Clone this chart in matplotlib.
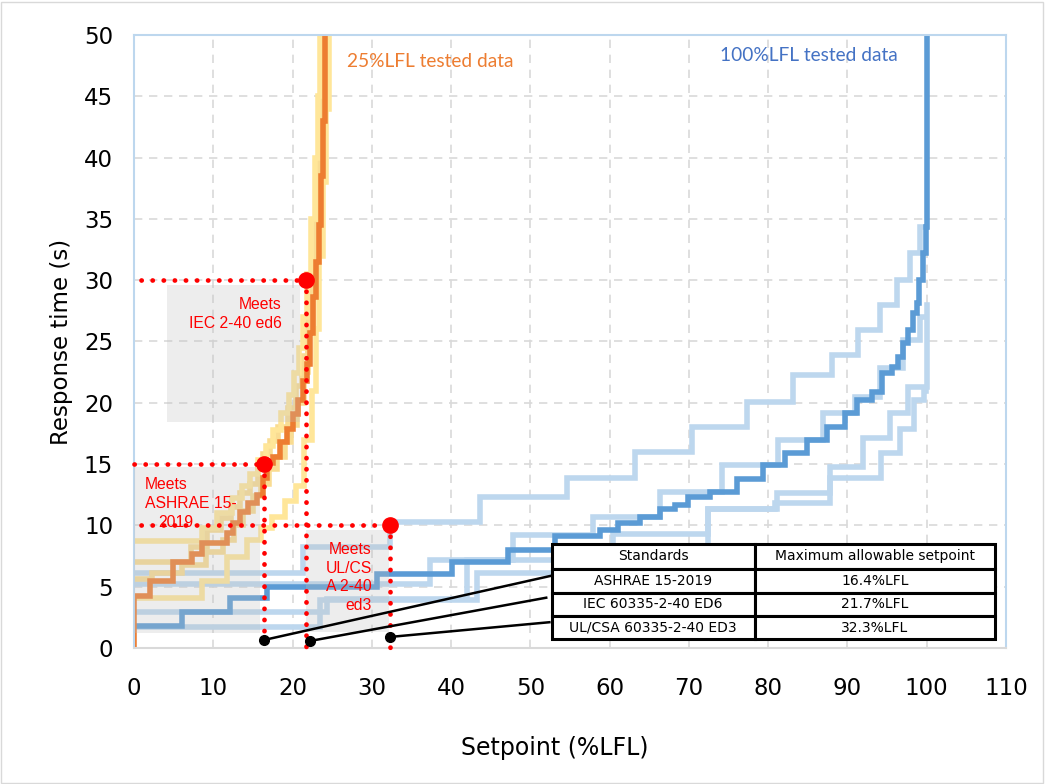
import matplotlib
matplotlib.use("Agg")
import matplotlib.pyplot as plt
from matplotlib.patches import Rectangle

# --- 25%LFL tests: (setpoint where the step happens, response time after the step)
ORANGE_X = [0, 0, 2.0, 4.9, 7.3, 8.6, 11.7, 12.5, 13.4, 14.4, 15.5, 16.3, 16.8, 17.5, 18.4,
            19.3, 20.1, 20.7, 21.3, 21.8, 22.2, 22.6, 23.0, 23.3, 23.6, 23.8, 24.1]
ORANGE_Y = [0, 4.2, 5.5, 7.0, 7.7, 8.6, 9.4, 10.2, 11.1, 11.8, 12.5, 13.9, 15.1, 15.6, 16.8,
            17.9, 19.1, 20.2, 21.8, 23.2, 25.7, 28.6, 31.5, 34.5, 38.5, 43.0, 50.5]

YELLOW_A_X = [0, 8.6, 10.5, 12.4, 13.6, 14.6, 15.6, 16.6, 17.6, 18.6, 19.5, 20.2, 20.8, 21.3,
              21.8, 22.3, 22.8, 23.2, 23.5]
YELLOW_A_Y = [8.7, 9.8, 11.0, 12.2, 13.2, 14.2, 15.3, 16.5, 17.8, 19.2, 20.6, 22.4, 24.5, 27.0,
              30.5, 35.0, 40.0, 45.0, 50.5]
YELLOW_B_X = [0, 7.2, 9.2, 11.0, 12.3, 13.4, 14.6, 15.7, 16.3, 17.2, 18.2, 19.4, 20.4, 21.2,
              21.9, 22.5, 23.0, 23.4, 23.8]
YELLOW_B_Y = [7.0, 8.2, 9.6, 10.6, 11.5, 12.6, 13.4, 14.6, 15.8, 16.9, 18.0, 19.6, 21.4, 23.8,
              27.0, 31.0, 36.0, 42.0, 50.5]
YELLOW_C_X = [0, 8.6, 11.7, 14.2, 16.0, 17.4, 19.0, 20.5, 21.5, 22.5, 23.0, 23.4, 23.8, 24.2, 24.6]
YELLOW_C_Y = [4.1, 5.5, 7.4, 8.8, 9.8, 10.7, 12.0, 13.2, 17.0, 21.0, 26.0, 32.0, 38.0, 44.0, 50.5]
YELLOW_D_X = [0, 2.3, 6.0, 9.1, 11.2, 12.6, 13.8, 15.0, 16.0, 17.0, 18.0, 19.0, 19.8, 20.6,
              21.4, 22.0, 22.6, 23.1, 23.6]
YELLOW_D_Y = [5.6, 6.1, 6.8, 7.8, 8.8, 10.0, 11.2, 12.4, 13.4, 14.6, 15.6, 16.8, 18.2, 20.0,
              22.5, 26.0, 31.0, 38.0, 50.5]

# --- 100%LFL tests
BLUE_X = [0, 6.0, 12.1, 16.8, 30.6, 40.1, 47.2, 53.1, 58.8, 61.1, 63.8, 66.4, 68.2, 69.9, 72.7,
          76.1, 79.4, 82.1, 84.9, 87.4, 89.7, 91.2, 93.1, 94.4, 95.6, 96.4, 97.0, 97.6, 98.3,
          98.8, 99.0, 99.5, 99.9, 100.0]
BLUE_Y = [1.8, 2.9, 4.1, 5.0, 6.0, 7.0, 8.0, 9.1, 9.6, 10.2, 10.7, 11.3, 11.7, 12.3, 12.7,
          13.8, 14.9, 15.9, 17.0, 18.0, 19.2, 20.2, 20.9, 22.4, 22.9, 23.7, 24.9, 25.9, 27.3,
          28.1, 30.0, 32.2, 34.3, 51.0]
LIGHT1_X = [0, 21.3, 32.3, 43.6, 54.6, 63.2, 70.4, 77.3, 83.1, 88.1, 91.3, 94.1, 96.2, 97.9, 99.2]
LIGHT1_Y = [6.1, 8.2, 10.3, 12.3, 13.9, 16.0, 18.0, 20.1, 22.3, 23.9, 25.9, 28.0, 30.0, 32.2, 34.3]
LIGHT2_X = [0, 37.3, 47.8, 57.9, 66.4, 74.2, 81.2, 86.9, 90.9, 94.1, 97.0, 99.2]
LIGHT2_Y = [5.2, 7.2, 9.2, 10.7, 12.7, 14.9, 17.0, 19.2, 20.5, 22.8, 25.1, 27.0]
LIGHT3_X = [0, 24.3, 42.0, 60.0, 72.4, 80.9, 87.8, 94.2, 96.6, 98.4, 99.6]
LIGHT3_Y = [2.9, 4.0, 7.2, 8.2, 11.3, 11.8, 13.9, 15.9, 17.9, 20.2, 21.0]
LIGHT4_X = [0, 23.5, 43.3, 60.4, 72.4, 81.1, 87.8, 92.0, 95.4, 97.6, 100.0]
LIGHT4_Y = [1.7, 3.9, 6.1, 9.3, 11.3, 12.6, 14.8, 17.1, 19.2, 21.3, 28.0]
LIGHT_END = [99.6, 99.5, 99.9, 100.0]

# --- standards: max setpoint (%LFL) and required response time (s)
STANDARDS = ["ASHRAE 15-2019", "IEC 60335-2-40 ED6", "UL/CSA 60335-2-40 ED3"]
MAX_SETPOINT = [16.4, 21.7, 32.3]
MAX_TIME = [15, 30, 10]

DARK_ORANGE = "#ED7D31"
DARK_BLUE = "#5B9BD5"
LIGHT_BLUE = "#BDD7EE"
PALE_YELLOW = "#FFE699"
TAN_YELLOW = "#F9DC92"
RED = "#FF0000"

fig = plt.figure(figsize=(10.45, 7.84), dpi=100)
ax = fig.add_axes([0.1282, 0.1735, 0.8345, 0.7819])


def stairs(xs, ys, x_end, **kw):
    ax.plot(list(xs) + [x_end], list(ys) + [ys[-1]], drawstyle="steps-post",
            solid_joinstyle="miter", **kw)


lw = 4.0
for xs, ys, xe in zip([LIGHT1_X, LIGHT2_X, LIGHT3_X, LIGHT4_X],
                      [LIGHT1_Y, LIGHT2_Y, LIGHT3_Y, LIGHT4_Y], LIGHT_END):
    stairs(xs, ys, xe, color=LIGHT_BLUE, lw=lw, zorder=2)
stairs(BLUE_X, BLUE_Y, 100.0, color=DARK_BLUE, lw=lw, zorder=2.1)

for xs, ys, c in [(YELLOW_D_X, YELLOW_D_Y, TAN_YELLOW), (YELLOW_C_X, YELLOW_C_Y, PALE_YELLOW),
                  (YELLOW_B_X, YELLOW_B_Y, TAN_YELLOW), (YELLOW_A_X, YELLOW_A_Y, PALE_YELLOW)]:
    stairs(xs, ys, xs[-1], color=c, lw=lw, zorder=2.2)
stairs(ORANGE_X, ORANGE_Y, ORANGE_X[-1], color=DARK_ORANGE, lw=lw, zorder=2.3)

# shaded "meets" regions sit over the curves
for (x0, x1, y0, y1) in [(4.2, 20.9, 18.4, 29.6), (0, 15.9, 1.2, 14.8), (21.7, 32.2, 1.3, 9.6)]:
    ax.add_patch(Rectangle((x0, y0), x1 - x0, y1 - y0, facecolor="#BFBFBF", alpha=0.28,
                           edgecolor="none", zorder=3))

# dotted guides to each standard's limit
dots = dict(color=RED, lw=3.4, linestyle=(0, (0.05, 2.3)), dash_capstyle="round",
            zorder=4, clip_on=False)
starts = [0.0, 0.9, 0.9]
for sx, ty, x0 in zip(MAX_SETPOINT, MAX_TIME, starts):
    ax.plot([x0, sx], [ty, ty], **dots)
    ax.plot([sx, sx], [ty, -0.3], **dots)
ax.plot(MAX_SETPOINT, MAX_TIME, "o", color=RED, ms=11, zorder=5, clip_on=False)

red_txt = dict(color=RED, fontsize=11.3, family="Liberation Sans", zorder=5, va="center")
ax.text(18.6, 28.05, "Meets", ha="right", **red_txt)
ax.text(18.6, 26.5, "IEC 2-40 ed6", ha="right", **red_txt)
ax.text(1.4, 13.3, "Meets", ha="left", **red_txt)
ax.text(1.4, 11.75, "ASHRAE 15-", ha="left", **red_txt)
ax.text(3.0, 10.25, "2019", ha="left", **red_txt)
for yy, s in zip([8.0, 6.5, 5.0, 3.45], ["Meets", "UL/CS", "A 2-40", "ed3"]):
    ax.text(30.0, yy, s, ha="right", **red_txt)

# series labels
ax.text(26.9, 47.8, "25%LFL tested data", color=DARK_ORANGE, fontsize=13.8,
        family="Lato", va="center", ha="left")
ax.text(73.9, 48.3, "100%LFL tested data", color="#4472C4", fontsize=13.8,
        family="Lato", va="center", ha="left")

# table of standards
tx = [52.7, 78.3, 108.6]
ty = [8.5, 6.44, 4.49, 2.61, 0.73]
rows = [("Standards", "Maximum allowable setpoint")] + \
       [(s, f"{v}%LFL") for s, v in zip(STANDARDS, MAX_SETPOINT)]
for r, (c1, c2) in enumerate(rows):
    y_top, y_bot = ty[r], ty[r + 1]
    for c, txt in enumerate((c1, c2)):
        ax.add_patch(Rectangle((tx[c], y_bot), tx[c + 1] - tx[c], y_top - y_bot,
                               facecolor="white", edgecolor="black", lw=2.2, zorder=6))
        ax.text((tx[c] + tx[c + 1]) / 2, (y_top + y_bot) / 2, txt, ha="center", va="center",
                fontsize=10, zorder=7)

# leader lines from each limit to its table row
dot_x = [16.4, 22.2, 32.3]
dot_y = [0.65, 0.57, 0.9]
row_x = [52.7, 52.0, 52.4]
row_y = [5.9, 4.1, 2.1]
for dx, dy, rx, ry in zip(dot_x, dot_y, row_x, row_y):
    ax.plot([dx, rx], [dy, ry], color="black", lw=1.8, zorder=5.5)
    ax.plot(dx, dy, "o", color="black", ms=7, zorder=5.6)

ax.set_xlim(0, 110)
ax.set_ylim(0, 50)
ax.set_xticks(range(0, 111, 10))
ax.set_yticks(range(0, 51, 5))
ax.grid(True, color="#D9D9D9", linestyle=(0, (5, 4)), lw=1.2)
ax.set_axisbelow(True)
ax.tick_params(length=0, labelsize=16.5)
ax.tick_params(axis="x", pad=21)
ax.tick_params(axis="y", pad=15)
for side in ("left", "top", "right"):
    ax.spines[side].set_color(LIGHT_BLUE)
    ax.spines[side].set_linewidth(1.5)
ax.spines["bottom"].set_color("#D9D9D9")
ax.spines["bottom"].set_linewidth(1.5)
ax.set_xlabel("Setpoint (%LFL)", fontsize=17)
ax.xaxis.set_label_coords(0.483, -0.143)
ax.set_ylabel("Response time (s)", fontsize=16.5, labelpad=8)

fig.patches.append(Rectangle((0.001, 0.001), 0.997, 0.997, transform=fig.transFigure,
                             fill=False, edgecolor="#D9D9D9", lw=1))

fig.savefig("out.png", dpi=100)
